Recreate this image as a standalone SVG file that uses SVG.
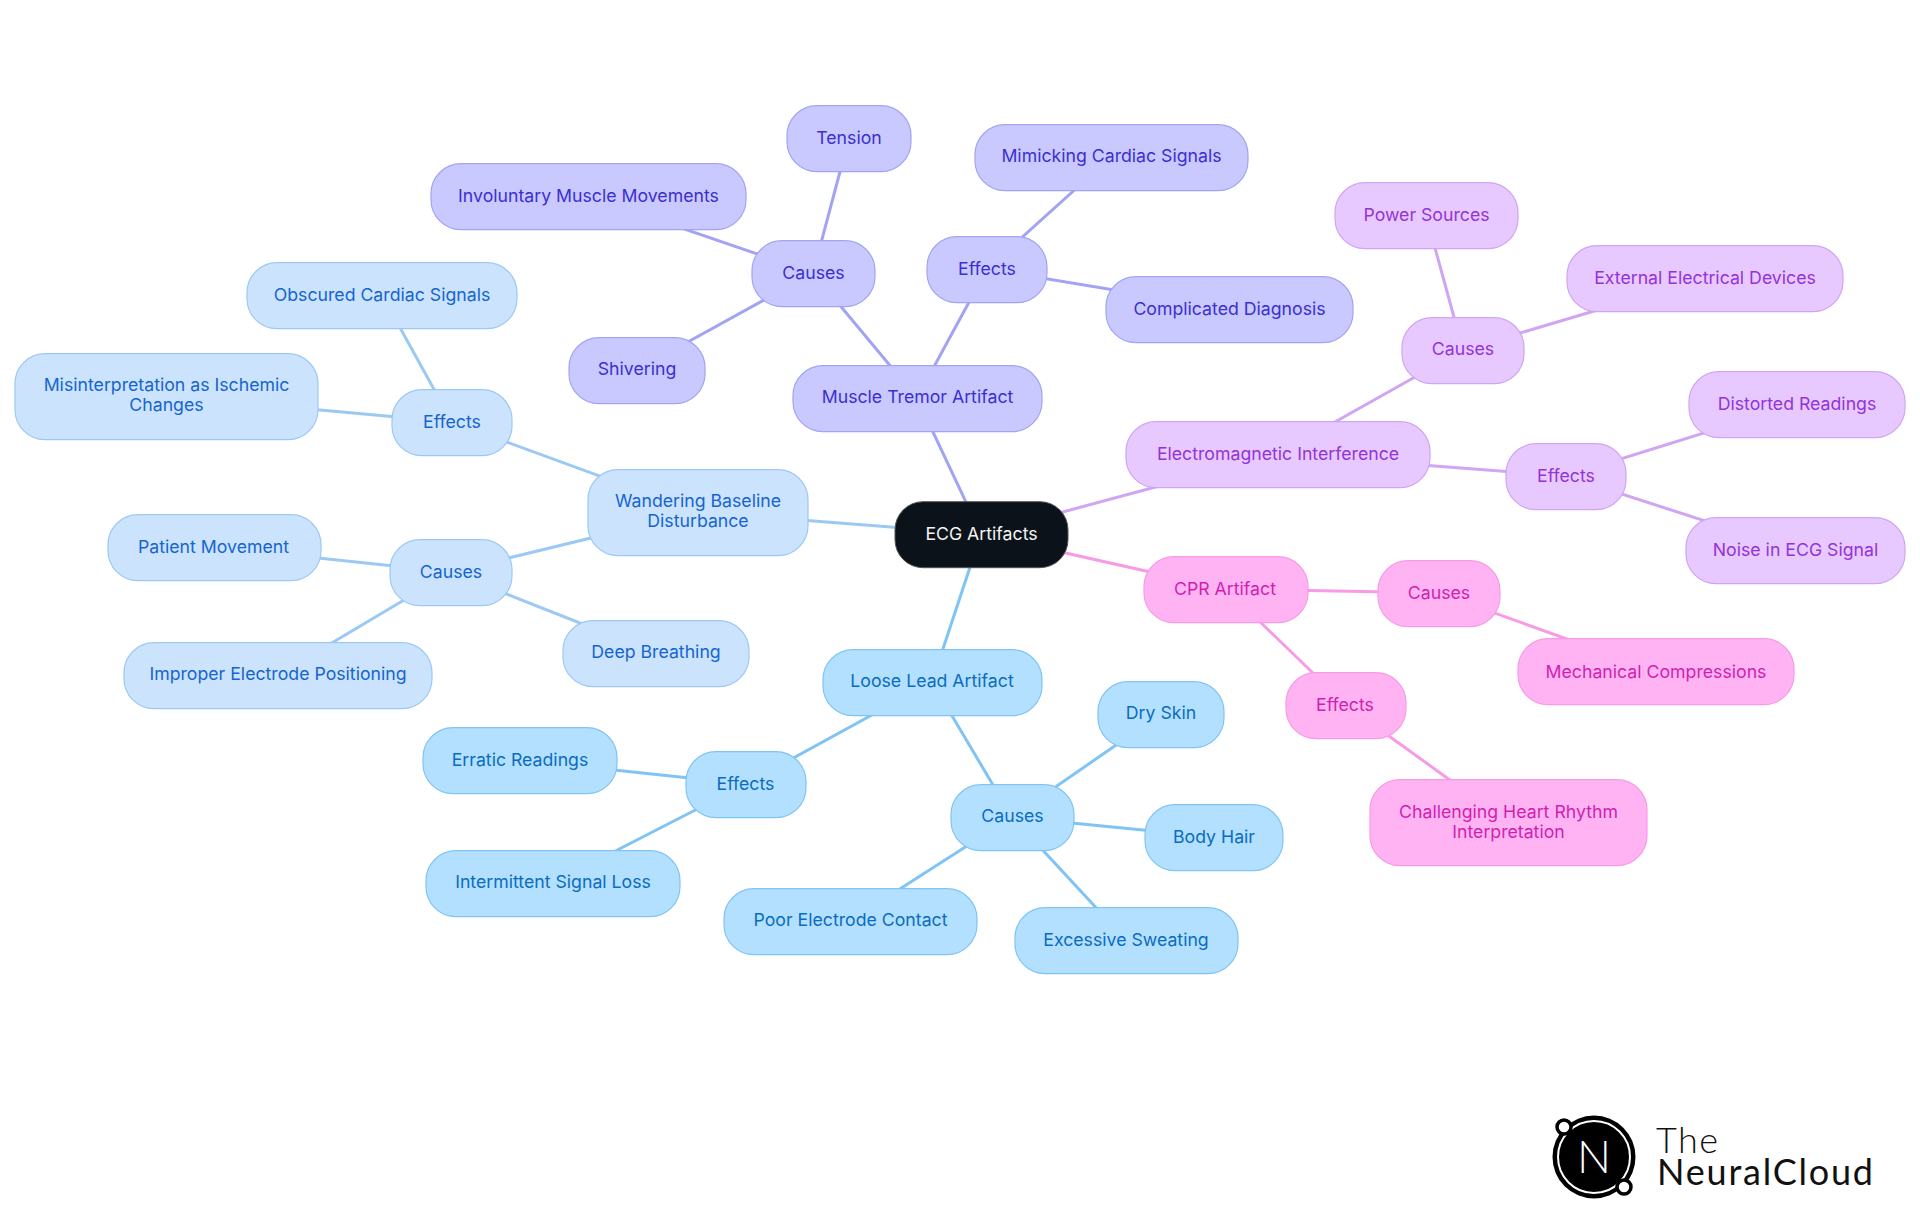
<svg xmlns="http://www.w3.org/2000/svg" width="1920" height="1215" viewBox="0 0 1920 1215">
<style>
text{font-family:"Inter","Noto Sans","Liberation Sans",sans-serif;font-size:17.7px;font-weight:380;text-anchor:middle}
#nodes text{transform:translate(0,-1px)}
.n{stroke-width:1.2}
rect.n{rx:30px}
#edges line{stroke-width:3;fill:none}
.a rect{fill:#cce3fd;stroke:#9cc9f4}.a text{fill:#1565d0}
.b rect{fill:#b3e0ff;stroke:#80c4f5}.b text{fill:#0a6cc0}
.c rect{fill:#c9c9ff;stroke:#a3a3f4}.c text{fill:#3b2fd0}
.d rect{fill:#e7c9ff;stroke:#cfa5f4}.d text{fill:#9333d8}
.e rect{fill:#ffb3f2;stroke:#f79be6}.e text{fill:#d01fb0}
.ea{stroke:#9cc9f4}.eb{stroke:#80c4f5}.ec{stroke:#a3a3f4}.ed{stroke:#cfa5f4}.ee{stroke:#f79be6}
.logo{font-family:"Lato",sans-serif;text-anchor:start;font-size:36px;fill:#111}
</style>
<rect width="1920" height="1215" fill="#fff"/>
<g id="edges">
<g class="ec"><line x1="981" y1="534" x2="917" y2="398"/><line x1="917" y1="398" x2="813" y2="273"/><line x1="917" y1="398" x2="987" y2="269"/><line x1="813" y1="273" x2="849" y2="138"/><line x1="813" y1="273" x2="588" y2="196"/><line x1="813" y1="273" x2="637" y2="370"/><line x1="987" y1="269" x2="1111" y2="157"/><line x1="987" y1="269" x2="1229" y2="309"/></g>
<g class="ed"><line x1="981" y1="534" x2="1278" y2="454"/><line x1="1278" y1="454" x2="1463" y2="350"/><line x1="1278" y1="454" x2="1566" y2="476"/><line x1="1463" y1="350" x2="1426" y2="215"/><line x1="1463" y1="350" x2="1705" y2="278"/><line x1="1566" y1="476" x2="1797" y2="404"/><line x1="1566" y1="476" x2="1795" y2="550"/></g>
<g class="ee"><line x1="981" y1="534" x2="1226" y2="589"/><line x1="1226" y1="589" x2="1439" y2="593"/><line x1="1226" y1="589" x2="1346" y2="705"/><line x1="1439" y1="593" x2="1656" y2="671"/><line x1="1346" y1="705" x2="1508" y2="822"/></g>
<g class="eb"><line x1="981" y1="534" x2="932" y2="682"/><line x1="932" y1="682" x2="746" y2="784"/><line x1="932" y1="682" x2="1012" y2="817"/><line x1="746" y1="784" x2="520" y2="760"/><line x1="746" y1="784" x2="553" y2="883"/><line x1="1012" y1="817" x2="1161" y2="714"/><line x1="1012" y1="817" x2="1214" y2="837"/><line x1="1012" y1="817" x2="850" y2="921"/><line x1="1012" y1="817" x2="1126" y2="940"/></g>
<g class="ea"><line x1="981" y1="534" x2="698" y2="512"/><line x1="698" y1="512" x2="452" y2="422"/><line x1="698" y1="512" x2="451" y2="572"/><line x1="452" y1="422" x2="382" y2="295"/><line x1="452" y1="422" x2="166" y2="396"/><line x1="451" y1="572" x2="214" y2="547"/><line x1="451" y1="572" x2="278" y2="675"/><line x1="451" y1="572" x2="656" y2="653"/></g>
</g>
<g id="nodes" transform="translate(0,0.7)">
<g id="root"><rect x="895" y="501" width="173" height="66" rx="28" fill="#0c1219" stroke="#555" stroke-width="1"/><text x="981.500" y="540" fill="#f4f4f4">ECG Artifacts</text></g>
<g class="c">
<g id="muscle"><rect class="n" x="793" y="365" width="249" height="66" rx="30"/><text x="917.500" y="403">Muscle Tremor Artifact</text></g>
<g id="m-causes"><rect class="n" x="752" y="240" width="123" height="66" rx="30"/><text x="813.500" y="279">Causes</text></g>
<g id="m-effects"><rect class="n" x="927" y="236" width="120" height="66" rx="30"/><text x="987" y="275">Effects</text></g>
<g id="tension"><rect class="n" x="787" y="105" width="124" height="66" rx="30"/><text x="849" y="144">Tension</text></g>
<g id="involuntary"><rect class="n" x="431" y="163" width="315" height="66" rx="30"/><text x="588.500" y="202">Involuntary Muscle Movements</text></g>
<g id="shivering"><rect class="n" x="569" y="337" width="136" height="66" rx="30"/><text x="637" y="375">Shivering</text></g>
<g id="mimicking"><rect class="n" x="975" y="124" width="273" height="66" rx="30"/><text x="1111.500" y="162">Mimicking Cardiac Signals</text></g>
<g id="complicated"><rect class="n" x="1106" y="276" width="247" height="66" rx="30"/><text x="1229.500" y="315">Complicated Diagnosis</text></g>
</g>
<g class="d">
<g id="emi"><rect class="n" x="1126" y="421" width="304" height="66" rx="30"/><text x="1278" y="460">Electromagnetic Interference</text></g>
<g id="d-causes"><rect class="n" x="1402" y="317" width="122" height="66" rx="30"/><text x="1463" y="355">Causes</text></g>
<g id="d-effects"><rect class="n" x="1506" y="443" width="120" height="66" rx="30"/><text x="1566" y="482">Effects</text></g>
<g id="power"><rect class="n" x="1335" y="182" width="183" height="66" rx="30"/><text x="1426.500" y="221">Power Sources</text></g>
<g id="external"><rect class="n" x="1567" y="245" width="276" height="66" rx="30"/><text x="1705" y="284">External Electrical Devices</text></g>
<g id="distorted"><rect class="n" x="1689" y="371" width="216" height="66" rx="30"/><text x="1797" y="410">Distorted Readings</text></g>
<g id="noise"><rect class="n" x="1686" y="517" width="219" height="66" rx="30"/><text x="1795.500" y="556">Noise in ECG Signal</text></g>
</g>
<g class="e">
<g id="cpr"><rect class="n" x="1144" y="556" width="164" height="66" rx="30"/><text x="1225" y="595">CPR Artifact</text></g>
<g id="e-causes"><rect class="n" x="1378" y="560" width="122" height="66" rx="30"/><text x="1439" y="599">Causes</text></g>
<g id="e-effects"><rect class="n" x="1286" y="672" width="120" height="66" rx="30"/><text x="1345" y="711">Effects</text></g>
<g id="mechanical"><rect class="n" x="1518" y="638" width="276" height="66" rx="30"/><text x="1656" y="678">Mechanical Compressions</text></g>
<g id="challenging"><rect class="n" x="1370" y="779" width="277" height="86" rx="30"/><text x="1508.500" y="818">Challenging Heart Rhythm</text><text x="1508.500" y="838">Interpretation</text></g>
</g>
<g class="b">
<g id="loose"><rect class="n" x="823" y="649" width="219" height="66" rx="30"/><text x="932" y="687">Loose Lead Artifact</text></g>
<g id="b-effects"><rect class="n" x="686" y="751" width="120" height="66" rx="30"/><text x="745.500" y="790">Effects</text></g>
<g id="b-causes"><rect class="n" x="951" y="784" width="123" height="66" rx="30"/><text x="1012.500" y="822">Causes</text></g>
<g id="erratic"><rect class="n" x="423" y="727" width="194" height="66" rx="30"/><text x="520" y="766">Erratic Readings</text></g>
<g id="intermittent"><rect class="n" x="426" y="850" width="254" height="66" rx="30"/><text x="553" y="888">Intermittent Signal Loss</text></g>
<g id="dry"><rect class="n" x="1098" y="681" width="126" height="66" rx="30"/><text x="1161" y="719">Dry Skin</text></g>
<g id="hair"><rect class="n" x="1145" y="804" width="138" height="66" rx="30"/><text x="1214" y="843">Body Hair</text></g>
<g id="poor"><rect class="n" x="724" y="888" width="253" height="66" rx="30"/><text x="850.500" y="926">Poor Electrode Contact</text></g>
<g id="sweat"><rect class="n" x="1015" y="907" width="223" height="66" rx="30"/><text x="1126" y="946">Excessive Sweating</text></g>
</g>
<g class="a">
<g id="wandering"><rect class="n" x="588" y="469" width="220" height="86" rx="30"/><text x="698" y="507">Wandering Baseline</text><text x="698" y="527">Disturbance</text></g>
<g id="a-effects"><rect class="n" x="392" y="389" width="120" height="66" rx="30"/><text x="452" y="428">Effects</text></g>
<g id="a-causes"><rect class="n" x="390" y="539" width="122" height="66" rx="30"/><text x="451" y="578">Causes</text></g>
<g id="obscured"><rect class="n" x="247" y="262" width="270" height="66" rx="30"/><text x="382" y="301">Obscured Cardiac Signals</text></g>
<g id="misinterp"><rect class="n" x="15" y="353" width="303" height="86" rx="30"/><text x="166.500" y="391">Misinterpretation as Ischemic</text><text x="166.500" y="411">Changes</text></g>
<g id="patient"><rect class="n" x="108" y="514" width="213" height="66" rx="30"/><text x="213.500" y="553">Patient Movement</text></g>
<g id="improper"><rect class="n" x="124" y="642" width="308" height="66" rx="30"/><text x="278" y="680">Improper Electrode Positioning</text></g>
<g id="deep"><rect class="n" x="563" y="620" width="186" height="66" rx="30"/><text x="656" y="658">Deep Breathing</text></g>
</g>
</g>
<g id="logo">
<circle cx="1594" cy="1157" r="41.500" fill="#000"/>
<circle cx="1594" cy="1157" r="36" fill="none" stroke="#fff" stroke-width="2"/>
<circle cx="1564" cy="1127" r="7" fill="#fff" stroke="#000" stroke-width="3.500"/>
<circle cx="1624" cy="1187" r="7" fill="#fff" stroke="#000" stroke-width="3.500"/>
<text x="1577" y="1173" textLength="34" lengthAdjust="spacingAndGlyphs" style="font-family:Lato,sans-serif;font-size:46px;font-weight:300;fill:#fff;text-anchor:start">N</text>
<text class="logo" x="1656" y="1153" textLength="62" style="font-weight:300">The</text>
<text class="logo" x="1657" y="1185" textLength="216" style="font-weight:400">NeuralCloud</text>
</g>
</svg>
